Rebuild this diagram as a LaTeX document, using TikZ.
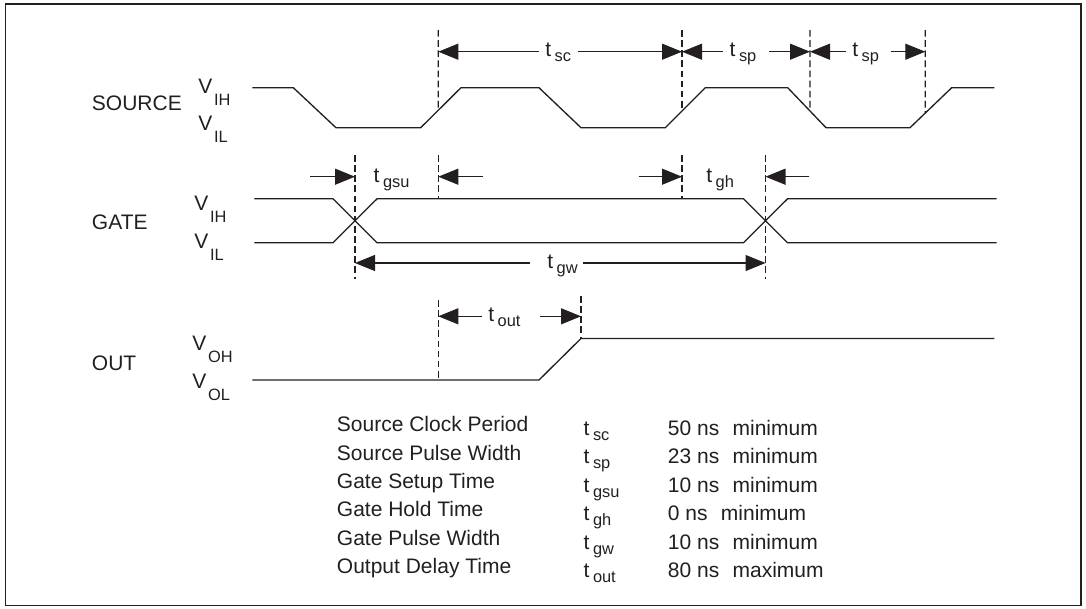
\documentclass[tikz,border=0pt]{standalone}
\usepackage{fontspec}
\setmainfont{Liberation Sans}
\usetikzlibrary{arrows.meta,calc}
\definecolor{ink}{RGB}{35,31,32}
\newcommand{\sbsz}[1]{{\fontsize{12.3pt}{14pt}\selectfont #1}}
\newcommand{\tlab}[1]{t\hspace{2.7pt}\raisebox{-3.8pt}{\sbsz{#1}}}
\newcommand{\vlab}[1]{V\hspace{1.3pt}\raisebox{-9.3pt}{\sbsz{#1}}}
\newcommand{\gp}{\hspace{10pt}}
\begin{document}
\begin{tikzpicture}[x=0.75pt,y=-0.75pt,
  wave/.style={draw=ink, line width=1pt, line join=miter},
  guide/.style={draw=ink, line width=0.95pt, dash pattern=on 5pt off 2.6pt},
  dim/.style={draw=ink, line width=0.85pt, -{Triangle[length=15pt,width=12pt]}},
  lbl/.style={inner sep=0pt, anchor=base west, text=ink, font=\fontsize{15.75pt}{18pt}\selectfont},
  frame/.style={draw=ink, line width=1.4pt}]
\useasboundingbox (0,0) rectangle (1086,608);
\draw[frame] (5.5,4) rectangle (1081,605.5);

% ---------------- SOURCE ----------------
\node[lbl] (srcname) at (91.7,110) {SOURCE};
\node[lbl] (srcvih) at (198,93.3) {\vlab{IH}};
\node[lbl] (srcvil) at (198,130) {\vlab{IL}};
\coordinate (s0) at (252.3,87.7);  \coordinate (s1) at (293.3,87.7);
\coordinate (s2) at (336,127.7);   \coordinate (s3) at (420.7,127.7);
\coordinate (s4) at (461,87.7);    \coordinate (s5) at (539,87.7);
\coordinate (s6) at (581,127.7);   \coordinate (s7) at (665.3,127.7);
\coordinate (s8) at (705.3,87.7);  \coordinate (s9) at (787.7,87.7);
\coordinate (s10) at (826,127.7);  \coordinate (s11) at (910,127.7);
\coordinate (s12) at (951.7,87.7); \coordinate (s13) at (994.3,87.7);
\draw[wave] (s0) -- (s1) -- (s2) -- (s3) -- (s4) -- (s5) -- (s6) -- (s7) -- (s8) -- (s9) -- (s10) -- (s11) -- (s12) -- (s13);

\coordinate (ta) at (438.3,30); \coordinate (ua) at (438.3,150);
\coordinate (tb) at (682,30);   \coordinate (ub) at (682,150);
\coordinate (tc) at (810,30);   \coordinate (uc) at (810,150);
\coordinate (td) at (925.3,30); \coordinate (ud) at (925.3,150);
\coordinate (ea) at (intersection of s3--s4 and ta--ua);
\coordinate (eb) at (intersection of s7--s8 and tb--ub);
\coordinate (ec) at (intersection of s9--s10 and tc--uc);
\coordinate (ed) at (intersection of s11--s12 and td--ud);
\draw[guide] (ta) -- (ea);
\draw[guide] (tb) -- (eb);
\draw[guide] (tc) -- (ec);
\draw[guide] (td) -- (ed);

\node[lbl] (lsc) at (545,56.7) {\tlab{sc}};
\node[lbl] (lsp1) at (729.3,56.7) {\tlab{sp}};
\node[lbl] (lsp2) at (852,56.7) {\tlab{sp}};
\coordinate (a1) at (539,51.7);   \coordinate (h1) at (438.3,51.7);
\coordinate (a2) at (578,51.7);   \coordinate (h2) at (682,51.7);
\coordinate (a3) at (722.7,51.7); \coordinate (h3) at (682,51.7);
\coordinate (a4) at (769.3,51.7); \coordinate (h4) at (810,51.7);
\coordinate (a5) at (846,51.7);   \coordinate (h5) at (810,51.7);
\coordinate (a6) at (891,51.7);   \coordinate (h6) at (925.3,51.7);
\draw[dim] (a1) -- (h1);
\draw[dim] (a2) -- (h2);
\draw[dim] (a3) -- (h3);
\draw[dim] (a4) -- (h4);
\draw[dim] (a5) -- (h5);
\draw[dim] (a6) -- (h6);

% ---------------- GATE ----------------
\node[lbl] (gatename) at (91.7,229.3) {GATE};
\node[lbl] (gatevih) at (194,210) {\vlab{IH}};
\node[lbl] (gatevil) at (194,248.3) {\vlab{IL}};
\coordinate (p0) at (254.3,198.8); \coordinate (p1) at (333,198.8);
\coordinate (p2) at (377,242.7);   \coordinate (p3) at (743.5,242.7);
\coordinate (p4) at (787.5,198.8); \coordinate (p5) at (996.7,198.8);
\coordinate (q0) at (254.3,242.7); \coordinate (q1) at (333,242.7);
\coordinate (q2) at (377,198.8);   \coordinate (q3) at (743.5,198.8);
\coordinate (q4) at (787.5,242.7); \coordinate (q5) at (996.7,242.7);
\draw[wave] (p0) -- (p1) -- (p2) -- (p3) -- (p4) -- (p5);
\draw[wave] (q0) -- (q1) -- (q2) -- (q3) -- (q4) -- (q5);

\coordinate (gt1) at (355,155);   \coordinate (gb1) at (355,279.3);
\coordinate (gt2) at (438.3,155); \coordinate (gb2) at (438.3,198.8);
\coordinate (gt3) at (682,155);   \coordinate (gb3) at (682,198.8);
\coordinate (gt4) at (765.5,155); \coordinate (gb4) at (765.5,279.3);
\draw[guide] (gt1) -- (gb1);
\draw[guide] (gt2) -- (gb2);
\draw[guide] (gt3) -- (gb3);
\draw[guide] (gt4) -- (gb4);

\node[lbl] (lgsu) at (373.3,182.2) {\tlab{gsu}};
\node[lbl] (lgh) at (706,182.2) {\tlab{gh}};
\node[lbl] (lgw) at (547,268.5) {\tlab{gw}};
\coordinate (b1) at (310,176.7);   \coordinate (k1) at (355,176.7);
\coordinate (b2) at (483,176.7);   \coordinate (k2) at (438.3,176.7);
\coordinate (b3) at (638.7,176.7); \coordinate (k3) at (682,176.7);
\coordinate (b4) at (809.3,176.7); \coordinate (k4) at (765.5,176.7);
\coordinate (c1) at (530,263);     \coordinate (m1) at (355,263);
\coordinate (c2) at (582.7,263);   \coordinate (m2) at (765.5,263);
\draw[dim] (b1) -- (k1);
\draw[dim] (b2) -- (k2);
\draw[dim] (b3) -- (k3);
\draw[dim] (b4) -- (k4);
\draw[dim] (c1) -- (m1);
\draw[dim] (c2) -- (m2);

% ---------------- OUT ----------------
\node[lbl] (outname) at (91.7,370) {OUT};
\node[lbl] (outvoh) at (192,350) {\vlab{OH}};
\node[lbl] (outvol) at (192,388.3) {\vlab{OL}};
\coordinate (o0) at (252.3,380); \coordinate (o1) at (539,380);
\coordinate (o2) at (581,338.5); \coordinate (o3) at (994.3,338.5);
\draw[wave] (o0) -- (o1) -- (o2) -- (o3);
\coordinate (ot1) at (438.3,300); \coordinate (ob1) at (438.3,380);
\coordinate (ot2) at (581,296);   \coordinate (ob2) at (581,338.5);
\draw[guide] (ot1) -- (ob1);
\draw[guide] (ot2) -- (ob2);
\node[lbl] (lout) at (488,321.8) {\tlab{out}};
\coordinate (d1) at (482,316.3); \coordinate (n1) at (438.3,316.3);
\coordinate (d2) at (540,316.3); \coordinate (n2) at (581,316.3);
\draw[dim] (d1) -- (n1);
\draw[dim] (d2) -- (n2);

% ---------------- TABLE ----------------
\foreach \nm/\sy/\va [count=\i from 0] in {
  Source Clock Period/sc/50 ns\gp minimum,
  Source Pulse Width/sp/23 ns\gp minimum,
  Gate Setup Time/gsu/10 ns\gp minimum,
  Gate Hold Time/gh/0 ns\gp minimum,
  Gate Pulse Width/gw/10 ns\gp minimum,
  Output Delay Time/out/80 ns\gp maximum}{
  \node[lbl] (L\i) at (336.7,431.7+28.4*\i) {\nm};
  \node[lbl] (S\i) at (583.3,435+28.5*\i) {\tlab{\sy}};
  \node[lbl] (V\i) at (667.7,435+28.5*\i) {\va};
}
\end{tikzpicture}
\end{document}
